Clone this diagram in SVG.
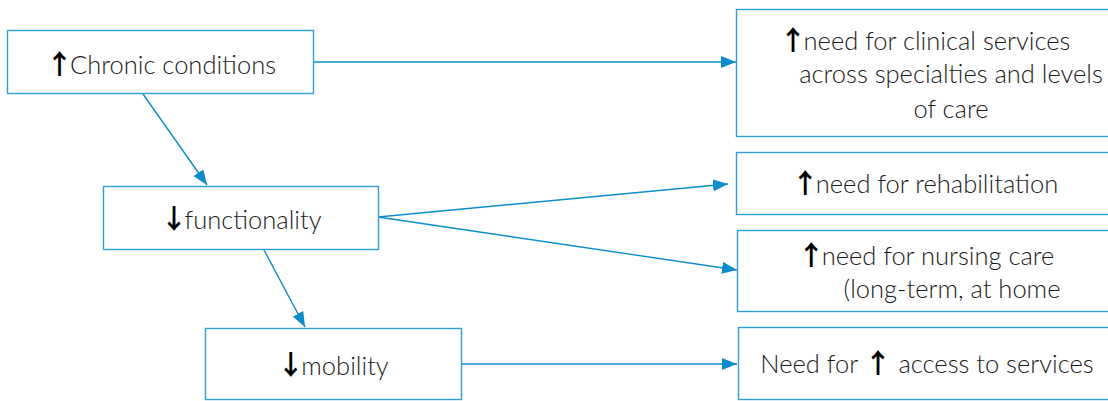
<svg xmlns="http://www.w3.org/2000/svg" width="1108" height="401" viewBox="0 0 1108 401">
<defs>
<marker id="ah" markerUnits="userSpaceOnUse" markerWidth="16" markerHeight="12" refX="15" refY="6" orient="auto">
<path d="M0,0 L15,6 L0,12 Z" fill="#0d8ccc"/>
</marker>
<style>
.box{fill:#fff;stroke:#2d9fd9;stroke-width:1.4}
.t{font-family:Lato,"Liberation Sans",sans-serif;font-size:25.5px;font-weight:300;fill:#1a1a1a;text-anchor:middle}
.a{font-family:"Noto Sans CJK SC",sans-serif;font-weight:bold;font-size:27px;fill:#000}
.c{stroke:#0d8ccc;stroke-width:1.4;fill:none;marker-end:url(#ah)}
</style>
</defs>
<rect width="1108" height="401" fill="#fff"/>
<g id="connectors">
<line class="c" x1="314" y1="62" x2="736" y2="62"/>
<line class="c" x1="143" y1="94" x2="207" y2="185"/>
<line class="c" x1="378" y1="217" x2="728" y2="184"/>
<line class="c" x1="378" y1="217" x2="737" y2="270"/>
<line class="c" x1="264" y1="250" x2="305" y2="327"/>
<line class="c" x1="462" y1="364" x2="737" y2="364"/>
</g>
<g id="chronic">
<rect class="box" x="7.5" y="30.5" width="306" height="63"/>
<text class="t" x="161" y="74"><tspan class="a">↑</tspan><tspan dx="-3">Chronic conditions</tspan></text>
</g>
<g id="functionality">
<rect class="box" x="103.5" y="186.5" width="275" height="63"/>
<text class="t" x="241" y="229"><tspan class="a">↓</tspan><tspan dx="-3">functionality</tspan></text>
</g>
<g id="mobility">
<rect class="box" x="205.5" y="328.5" width="256" height="71"/>
<text class="t" x="333" y="375"><tspan class="a">↓</tspan><tspan dx="-3">mobility</tspan></text>
</g>
<g id="clinical">
<rect class="box" x="736.5" y="9.5" width="380" height="127"/>
<text class="t" x="925" y="50"><tspan class="a">↑</tspan><tspan dx="-3">need for clinical services</tspan></text>
<text class="t" x="951" y="83">across specialties and levels</text>
<text class="t" x="951" y="118">of care</text>
</g>
<g id="rehabilitation">
<rect class="box" x="736.5" y="152.5" width="380" height="62"/>
<text class="t" x="925" y="193"><tspan class="a">↑</tspan><tspan dx="-3">need for rehabilitation</tspan></text>
</g>
<g id="nursing">
<rect class="box" x="737.5" y="230.5" width="380" height="81"/>
<text class="t" x="926" y="265"><tspan class="a">↑</tspan><tspan dx="-3">need for nursing care</tspan></text>
<text class="t" x="952" y="298">(long-term, at home</text>
</g>
<g id="access">
<rect class="box" x="738.5" y="327.5" width="380" height="72"/>
<text class="t" x="927" y="373">Need for <tspan class="a">↑</tspan> access to services</text>
</g>
</svg>
